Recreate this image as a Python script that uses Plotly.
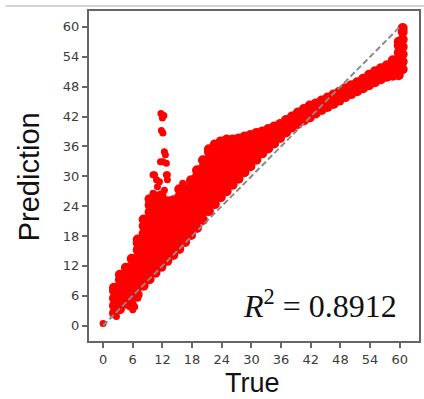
import plotly.graph_objects as go

# Dense body of the scatter: one list of predictions per true-value column
true_cols = [2.2, 3.4, 4.6, 5.8, 7.0, 8.2, 9.4, 10.6, 11.8, 13.0,
             14.2, 15.4, 16.6, 17.8, 19.0, 20.2, 21.4, 22.6, 23.8, 25.0,
             26.2, 27.4, 28.6, 29.8, 31.0, 32.2, 33.4, 34.6, 35.8, 37.0,
             38.2, 39.4, 40.6, 41.8, 43.0, 44.2, 45.4, 46.6, 47.8, 49.0,
             50.2, 51.4, 52.6, 53.8, 55.0, 56.2, 57.4, 58.6, 59.8, 60.6]
pred_cols = [
    [2.5, 4.0, 5.5, 7.0, 7.6],
    [3.3, 4.8, 6.3, 7.8, 9.2, 10.2],
    [4.4, 5.9, 7.4, 8.9, 10.3, 11.6],
    [4.3, 5.8, 7.3, 8.8, 10.3, 11.8, 13.4],
    [6.2, 7.7, 9.2, 10.7, 12.2, 13.7, 15.2, 16.6, 17.3],
    [8.0, 9.5, 11.0, 12.5, 14.0, 15.5, 17.0, 18.5, 20.0, 21.3],
    [9.3, 10.8, 12.3, 13.8, 15.3, 16.8, 18.3, 19.8, 21.3, 22.8, 24.2, 25.4],
    [10.6, 12.1, 13.6, 15.1, 16.6, 18.1, 19.6, 21.1, 22.6, 24.0, 25.2, 26.0],
    [11.8, 13.3, 14.8, 16.3, 17.8, 19.3, 20.8, 22.3, 23.8, 25.2, 26.2],
    [13.0, 14.5, 16.0, 17.5, 19.0, 20.5, 22.0, 23.5, 25.0],
    [14.2, 15.7, 17.2, 18.7, 20.2, 21.7, 23.2, 24.6, 25.2],
    [15.4, 16.9, 18.4, 19.9, 21.4, 22.9, 24.4, 25.9, 27.4],
    [16.8, 18.3, 19.8, 21.3, 22.8, 24.3, 25.8, 27.4],
    [18.2, 19.7, 21.2, 22.7, 24.2, 25.7, 27.2, 28.6, 29.2],
    [19.6, 21.1, 22.6, 24.1, 25.6, 27.1, 28.6, 30.0, 31.2],
    [21.2, 22.7, 24.2, 25.7, 27.2, 28.7, 30.2, 31.7, 33.2],
    [23.0, 24.5, 26.0, 27.5, 29.0, 30.5, 32.0, 33.5, 34.9, 35.4],
    [24.4, 25.9, 27.4, 28.9, 30.4, 31.9, 33.4, 34.9, 36.4],
    [25.8, 27.3, 28.8, 30.3, 31.8, 33.3, 34.8, 36.2, 37.0],
    [27.0, 28.5, 30.0, 31.5, 33.0, 34.5, 36.0, 37.4],
    [28.3, 29.8, 31.3, 32.8, 34.3, 35.8, 37.4],
    [29.5, 31.0, 32.5, 34.0, 35.5, 37.0, 37.6],
    [30.8, 32.3, 33.8, 35.3, 36.8, 38.0],
    [32.0, 33.6, 35.2, 36.8, 38.3],
    [33.3, 34.8, 36.3, 37.8, 38.7],
    [34.6, 36.1, 37.6, 39.0],
    [35.6, 37.0, 38.4, 39.5],
    [36.6, 38.0, 39.4, 40.0],
    [37.7, 39.1, 40.5],
    [38.8, 40.1, 41.3],
    [39.8, 41.0, 42.0],
    [40.5, 41.7, 42.8],
    [41.2, 42.4, 43.5],
    [41.8, 43.0, 44.2],
    [42.6, 43.6, 44.6],
    [43.3, 44.3, 45.2],
    [43.9, 44.9, 45.8],
    [44.5, 45.5, 46.4],
    [45.2, 46.1, 47.0],
    [45.9, 46.8, 47.7],
    [46.5, 47.4, 48.3],
    [47.1, 48.0, 48.9],
    [47.7, 48.6, 49.6],
    [48.3, 49.3, 50.4],
    [48.9, 50.0, 51.1],
    [49.5, 50.6, 51.7],
    [50.0, 51.1, 52.3],
    [50.2, 51.4, 52.6, 53.3],
    [50.3, 51.8, 53.3, 54.8, 56.3, 57.0],
    [51.5, 53.0, 54.5, 56.0, 57.5, 59.0, 59.8],
]

# Isolated samples away from the main body
sparse_true = [0.0, 2.7, 5.4, 6.0, 6.4, 7.0, 6.6,
               11.7, 12.3, 12.0, 11.8, 12.1, 12.4, 12.6, 12.1, 11.6, 12.8,
               10.1, 10.8, 12.8, 13.0, 11.0, 10.1, 12.4, 16.1, 10.4, 11.4, 13.0]
sparse_pred = [0.4, 1.8, 3.8, 3.2, 3.8, 5.5, 6.0,
               42.6, 42.2, 41.7, 39.2, 38.7, 34.9, 34.3, 32.9, 32.9, 32.6,
               30.3, 29.3, 30.3, 29.3, 27.9, 26.6, 27.2, 28.6, 30.3, 28.9, 30.3]

r2_text = "<i>R</i><sup>2</sup> = 0.8912"
axis_ticks = [0, 6, 12, 18, 24, 30, 36, 42, 48, 54, 60]
identity = [0, 60]

x_pts, y_pts, sizes = [], [], []
for xv, ys in zip(true_cols, pred_cols):
    for yv in ys:
        x_pts.append(xv)
        y_pts.append(yv)
        sizes.append(10)
for xv, yv in zip(sparse_true, sparse_pred):
    x_pts.append(xv)
    y_pts.append(yv)
    sizes.append(7)

fig = go.Figure()
fig.add_trace(go.Scatter(
    x=x_pts, y=y_pts, mode="markers",
    marker=dict(color="#ff0000", size=sizes, opacity=1, line=dict(width=0)),
    showlegend=False, hoverinfo="skip",
))
fig.add_trace(go.Scatter(
    x=identity, y=identity, mode="lines",
    line=dict(color="#8a8a8a", width=2, dash="6px,3px"),
    showlegend=False, hoverinfo="skip",
))

tick_font = dict(family="DejaVu Sans", size=13, color="#3c3c3c")
axis_common = dict(
    tickvals=axis_ticks, ticks="outside", ticklen=5, tickwidth=1.5,
    tickcolor="#666666", showline=True, linecolor="#666666", linewidth=2,
    mirror=True, showgrid=False, zeroline=False, tickfont=tick_font,
)
fig.update_xaxes(range=[-2.85, 63.9], **axis_common)
fig.update_yaxes(range=[-3.1, 63.2], **axis_common)

fig.add_annotation(text="True", xref="paper", yref="paper", x=0.494, y=-0.127,
                   xanchor="center", yanchor="middle", showarrow=False,
                   font=dict(family="Liberation Sans", size=27, color="#111111"))
fig.add_annotation(text="Prediction", xref="paper", yref="paper", x=-0.181, y=0.497,
                   xanchor="center", yanchor="middle", textangle=-90, showarrow=False,
                   font=dict(family="Liberation Sans", size=29, color="#111111"))
fig.add_annotation(text=r2_text, xref="paper", yref="paper", x=0.701, y=0.112,
                   xanchor="center", yanchor="middle", showarrow=False,
                   font=dict(family="Liberation Serif", size=32, color="#111111"))

# thin rule above the axes
fig.add_shape(type="line", xref="paper", yref="paper", x0=-0.253, x1=1.02,
              y0=1.015, y1=1.015, line=dict(color="#d4d4d4", width=2))

fig.update_layout(
    width=424, height=399, margin=dict(l=89, r=3, t=11, b=58),
    plot_bgcolor="white", paper_bgcolor="white",
)
fig.write_html("out.html")
